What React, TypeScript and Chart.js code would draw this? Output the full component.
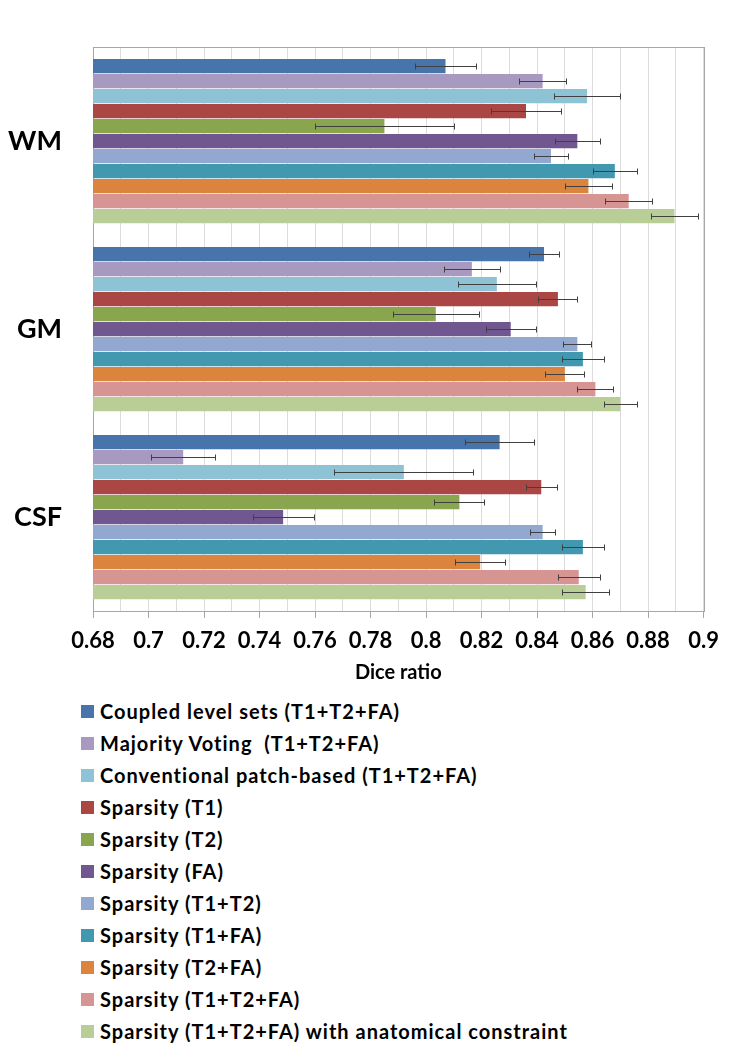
import React, { useEffect, useRef } from 'react';
import { Chart, registerables } from 'chart.js';

Chart.register(...registerables);

const FONT = 'Lato, "Open Sans", sans-serif';

// Tissue classes shown on the category axis
const tissues = ['WM', 'GM', 'CSF'];

// Segmentation methods (one bar per tissue each)
const methods = [
  'Coupled level sets (T1+T2+FA)',
  'Majority Voting  (T1+T2+FA)',
  'Conventional patch-based (T1+T2+FA)',
  'Sparsity (T1)',
  'Sparsity (T2)',
  'Sparsity (FA)',
  'Sparsity (T1+T2)',
  'Sparsity (T1+FA)',
  'Sparsity (T2+FA)',
  'Sparsity (T1+T2+FA)',
  'Sparsity (T1+T2+FA) with anatomical constraint',
];

const methodColors = [
  '#4674AB',
  '#A899C1',
  '#8EC3D6',
  '#AA4644',
  '#89A54E',
  '#71578F',
  '#92A8D1',
  '#4198AF',
  '#DB843D',
  '#D69492',
  '#B9CE96',
];

// Mean Dice ratio per method
const meanWM = [0.807, 0.842, 0.858, 0.836, 0.785, 0.8545, 0.845, 0.868, 0.8585, 0.873, 0.8895];
const meanGM = [0.8425, 0.8165, 0.8255, 0.8475, 0.8035, 0.8305, 0.8545, 0.8565, 0.85, 0.861, 0.87];
const meanCSF = [0.8265, 0.7125, 0.792, 0.8415, 0.812, 0.7485, 0.842, 0.8565, 0.8195, 0.855, 0.8575];

// Standard deviation per method
const sdWM = [0.011, 0.0085, 0.012, 0.0125, 0.025, 0.008, 0.006, 0.008, 0.0085, 0.0085, 0.0085];
const sdGM = [0.0055, 0.01, 0.014, 0.007, 0.0155, 0.009, 0.005, 0.0075, 0.007, 0.0065, 0.006];
const sdCSF = [0.0125, 0.0115, 0.025, 0.0055, 0.009, 0.011, 0.0045, 0.0075, 0.009, 0.0075, 0.0085];

// Axis range and tick spacing
const xMin = 0.68;
const xMax = 0.9;
const gridStep = 0.01;

const errorBars = {
  id: 'errorBars',
  afterDatasetsDraw(chart: any) {
    const { ctx } = chart;
    const x = chart.scales.x;
    ctx.save();
    ctx.strokeStyle = '#404040';
    ctx.lineWidth = 1;
    chart.data.datasets.forEach((ds: any, di: number) => {
      const meta = chart.getDatasetMeta(di);
      meta.data.forEach((bar: any, i: number) => {
        const mean = ds.data[i];
        const sd = ds.errors[i];
        const x0 = Math.round(x.getPixelForValue(mean - sd)) + 0.5;
        const x1 = Math.round(x.getPixelForValue(mean + sd)) + 0.5;
        const y = Math.round(bar.y) + 0.5;
        ctx.beginPath();
        ctx.moveTo(x0, y);
        ctx.lineTo(x1, y);
        ctx.moveTo(x0, y - 3);
        ctx.lineTo(x0, y + 3);
        ctx.moveTo(x1, y - 3);
        ctx.lineTo(x1, y + 3);
        ctx.stroke();
      });
    });
    ctx.restore();
  },
};

const plotFrame = {
  id: 'plotFrame',
  beforeDatasetsDraw(chart: any) {
    const { ctx, chartArea: a } = chart;
    ctx.save();
    ctx.strokeStyle = '#a6a6a6';
    ctx.lineWidth = 1;
    ctx.strokeRect(Math.round(a.left) + 0.5, Math.round(a.top) + 0.5, Math.round(a.right - a.left), Math.round(a.bottom - a.top));
    ctx.restore();
  },
};

export default function App() {
  const canvasRef = useRef<HTMLCanvasElement>(null);

  useEffect(() => {
    const means = methods.map((_, i) => [meanWM[i], meanGM[i], meanCSF[i]]);
    const sds = methods.map((_, i) => [sdWM[i], sdGM[i], sdCSF[i]]);
    const chart = new Chart(canvasRef.current!, {
      type: 'bar',
      data: {
        labels: tissues,
        datasets: methods.map((m, i) => ({
          label: m,
          data: means[i],
          errors: sds[i],
          backgroundColor: methodColors[i],
          borderWidth: 0,
          categoryPercentage: 0.878,
          barPercentage: 0.95,
        })) as any,
      },
      options: {
        indexAxis: 'y',
        responsive: false,
        animation: false,
        layout: { padding: { top: 13, right: 18, left: 0, bottom: 0 } },
        plugins: { legend: { display: false }, tooltip: { enabled: false } },
        scales: {
          x: {
            type: 'linear',
            min: xMin,
            max: xMax,
            ticks: {
              stepSize: gridStep,
              maxTicksLimit: 30,
              autoSkip: false,
              maxRotation: 0,
              color: '#000',
              padding: 10,
              font: { family: FONT, size: 22, weight: 'bold' },
              callback: (v: any, i: number) => (i % 2 === 0 ? String(Math.round(Number(v) * 100) / 100) : ''),
            },
            grid: {
              color: '#dcdcdc',
              tickLength: 7,
              tickColor: (c: any) => (c.index % 2 === 0 ? '#a6a6a6' : 'rgba(0,0,0,0)'),
            },
            border: { color: '#a6a6a6' },
            title: {
              display: true,
              text: 'Dice ratio',
              color: '#000',
              font: { family: FONT, size: 20, weight: 'bold' },
              padding: { top: 0, bottom: 5 },
            },
            afterFit: (s: any) => {
              s.height = 79;
            },
          },
          y: {
            ticks: {
              color: '#000',
              padding: 31,
              font: { family: FONT, size: 27, weight: 'bold' },
            },
            grid: { display: false, drawTicks: false },
            border: { color: '#a6a6a6' },
            afterFit: (s: any) => {
              s.width = 93;
            },
          },
        },
      } as any,
      plugins: [plotFrame, errorBars],
    });
    return () => chart.destroy();
  }, []);

  return (
    <div style={{ position: 'absolute', left: 0, top: 0, width: 729, height: 1045, background: '#fff' }}>
      <canvas ref={canvasRef} width={729} height={690} style={{ display: 'block' }} />
      <div style={{ marginTop: 5, fontFamily: FONT, fontWeight: 'bold', fontSize: 20, letterSpacing: 1, color: '#000' }}>
        {methods.map((m, i) => (
          <div key={m} style={{ height: 32, display: 'flex', alignItems: 'center' }}>
            <span style={{ display: 'inline-block', width: 13, height: 13, marginLeft: 81, marginRight: 6, background: methodColors[i] }} />
            <span style={{ whiteSpace: 'pre' }}>{m}</span>
          </div>
        ))}
      </div>
    </div>
  );
}
